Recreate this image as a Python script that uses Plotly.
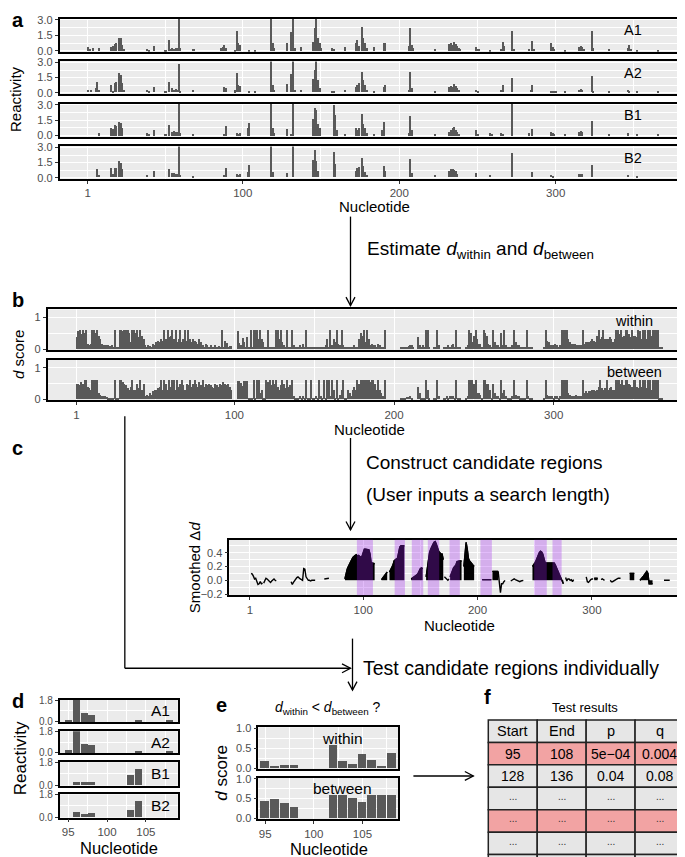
import math
import plotly.graph_objects as go

W, H = 685, 857
FONT = "Liberation Sans, Arial, Helvetica, sans-serif"
BAR = "#595959"
PANEL_BG = "#EBEBEB"
TICK_C = "#4D4D4D"
PURPLE = "rgba(160,32,240,0.30)"
PINK = "#F2A3A3"
GRAY = "#E6E6E6"

# ---------------- data ----------------
nucleotides = list(range(1, 369))
replicates = ["A1", "A2", "B1", "B2"]

react_A1 = {1: 0.43, 2: 0.2, 4: 0.34, 8: 0.34, 16: 0.43, 17: 0.5, 18: 0.65, 19: 0.74, 21: 1.27, 22: 1.27,
            23: 0.62, 24: 0.2, 39: 0.25, 40: 0.15, 43: 0.5, 50: 0.12, 51: 0.15, 53: 1.05, 54: 0.25, 55: 0.34,
            56: 0.25, 57: 0.3, 58: 0.3, 59: 3.2, 60: 0.3, 68: 0.25, 69: 0.2, 86: 0.3, 87: 0.45, 88: 0.55,
            89: 0.3, 95: 0.15, 96: 1.9, 97: 0.75, 98: 0.6, 104: 0.15, 108: 0.12, 118: 3.2, 119: 0.74,
            120: 0.34, 128: 0.8, 131: 1.8, 132: 3.2, 133: 0.34, 137: 0.43, 145: 0.93, 146: 2.2, 147: 3.2,
            148: 1.27, 149: 0.74, 150: 0.34, 157: 0.28, 158: 0.2, 165: 0.4, 172: 0.8, 173: 1.05, 174: 0.5,
            176: 2.3, 177: 1.27, 178: 0.74, 179: 0.34, 184: 0.43, 190: 0.74, 191: 0.74, 206: 0.5, 207: 2.23,
            208: 0.62, 209: 0.3, 223: 0.25, 232: 0.65, 233: 0.74, 234: 0.55, 235: 0.9, 236: 0.68, 237: 0.5,
            238: 0.34, 239: 0.25, 249: 0.4, 250: 0.2, 251: 0.2, 258: 0.12, 265: 0.2, 266: 0.93, 267: 0.5,
            272: 1.9, 273: 0.2, 283: 0.2, 285: 0.96, 286: 0.25, 297: 0.74, 298: 0.43, 299: 0.25, 306: 0.12,
            315: 0.43, 316: 0.5, 317: 0.43, 318: 0.25, 323: 1.9, 324: 0.34, 334: 0.2, 346: 0.34, 347: 0.62,
            348: 0.25, 352: 0.12, 365: 0.12}
react_A2 = {1: 0.25, 3: 0.25, 6: 0.4, 7: 1.0, 8: 0.25, 16: 0.73, 17: 0.1, 18: 0.9, 19: 1.05, 21: 1.9,
            22: 1.7, 23: 0.9, 24: 0.25, 39: 0.25, 40: 0.1, 43: 0.57, 50: 0.1, 51: 0.15, 53: 1.0, 55: 0.4,
            56: 0.25, 57: 0.3, 58: 0.25, 59: 2.85, 60: 0.15, 68: 0.25, 88: 0.57, 89: 0.4, 95: 0.18, 96: 1.9,
            97: 0.72, 98: 0.65, 104: 0.1, 108: 0.08, 118: 3.2, 119: 0.73, 120: 0.25, 128: 0.8, 131: 1.85,
            132: 3.2, 133: 0.2, 137: 0.25, 145: 1.36, 146: 2.2, 147: 3.2, 148: 1.2, 149: 0.4, 157: 0.15,
            158: 0.15, 165: 0.25, 172: 0.57, 173: 0.73, 174: 0.9, 176: 2.0, 177: 1.2, 178: 0.73, 179: 0.25,
            184: 0.15, 190: 0.57, 191: 0.73, 206: 0.25, 207: 2.0, 208: 0.4, 223: 0.15, 232: 0.57, 233: 0.63,
            234: 0.57, 235: 0.8, 236: 0.67, 237: 0.47, 238: 0.25, 249: 0.25, 250: 0.15, 265: 0.25, 266: 0.73,
            272: 1.42, 284: 0.25, 285: 0.73, 297: 0.15, 298: 0.12, 299: 0.15, 300: 0.1, 306: 0.1, 315: 0.25,
            316: 0.3, 317: 0.25, 323: 1.6, 324: 0.15, 334: 0.1, 346: 0.25, 347: 0.1, 352: 0.06, 365: 0.06}
react_B1 = {8: 0.32, 16: 0.8, 17: 0.66, 18: 1.05, 19: 1.0, 21: 1.36, 22: 1.3, 23: 0.8, 39: 0.32, 40: 0.16,
            43: 0.54, 50: 0.16, 51: 0.16, 53: 1.1, 55: 0.41, 56: 0.47, 57: 0.41, 58: 0.41, 59: 3.2, 60: 0.25,
            68: 0.22, 88: 0.16, 89: 0.92, 96: 0.25, 97: 0.22, 98: 0.25, 103: 0.8, 104: 1.25, 118: 3.2,
            119: 0.73, 120: 0.32, 128: 0.63, 131: 0.16, 132: 3.2, 145: 1.6, 146: 2.7, 147: 2.56, 148: 1.2,
            149: 0.73, 158: 3.0, 159: 2.0, 160: 0.6, 165: 0.16, 172: 0.8, 173: 0.57, 174: 0.73, 176: 2.15,
            177: 1.2, 178: 0.73, 179: 0.25, 184: 0.16, 189: 0.57, 190: 1.36, 206: 0.25, 207: 1.9, 208: 0.57,
            223: 0.16, 232: 0.41, 233: 0.57, 234: 0.73, 235: 0.89, 236: 0.57, 237: 0.41, 238: 0.16,
            249: 0.57, 250: 0.16, 258: 0.25, 259: 0.16, 265: 0.32, 266: 0.16, 272: 3.2, 283: 0.25, 285: 0.66,
            297: 0.35, 298: 0.3, 299: 0.2, 306: 0.16, 315: 0.41, 316: 0.5, 317: 0.41, 323: 1.42, 334: 0.16,
            346: 0.25, 352: 0.1, 365: 0.1}
react_B2 = {7: 0.8, 8: 0.2, 16: 0.95, 17: 0.3, 18: 0.95, 19: 0.95, 21: 1.6, 22: 1.4, 23: 0.8, 39: 0.25,
            43: 0.63, 53: 0.8, 55: 0.45, 56: 0.4, 57: 0.35, 58: 0.3, 59: 3.2, 60: 0.2, 68: 0.15, 88: 0.25,
            89: 0.92, 96: 0.35, 97: 0.2, 98: 0.3, 103: 0.55, 104: 1.25, 118: 3.2, 119: 0.5, 128: 0.4,
            132: 3.2, 145: 1.73, 146: 2.7, 147: 1.6, 148: 0.6, 158: 2.5, 159: 1.3, 172: 0.63, 173: 0.9,
            174: 1.0, 176: 1.95, 177: 1.1, 178: 0.5, 179: 0.2, 190: 1.14, 191: 0.6, 207: 1.8, 208: 0.47,
            223: 0.2, 232: 0.63, 233: 0.8, 234: 0.8, 235: 0.7, 236: 0.63, 237: 0.3, 249: 0.47, 258: 0.25,
            272: 2.43, 285: 0.57, 297: 0.2, 298: 0.15, 315: 0.3, 316: 0.35, 317: 0.3, 323: 1.26, 346: 0.2,
            352: 0.08}
reactivity = {"A1": react_A1, "A2": react_A2, "B1": react_B1, "B2": react_B2}

within_d = [
    0.35, 0.55, 0.6, 0.45, 0.6, 0.5, 0.6, 0.15, 0.12, 0.15,
    0.6, 0.6, 0.5, 0.6, 0.4, 0.3, 0.15, 0.1, 0.12, 0.1,
    0.1, 0.08, 0.1, 0.05, 0.6, 0.05, 0.05, 0.6, 0.6, 0.55,
    0.6, 0.6, 0.6, 0.5, 0.2, 0.6, 0.6, 0.5, 0.6, 0.35,
    0.6, 0.4, 0.3, 0.1, 0.05, 0.1, 0.08, 0.05, 0.15, 0.1,
    0.2, 0.25, 0.2, 0.3, 0.25, 0.6, 0.3, 0.6, 0.35, 0.4,
    0.6, 0.3, 0.6, 0.2, 0.3, 0.6, 0.2, 0.3, 0.6, 0.25,
    0.6, 0.3, 0.2, 0.3, 0.25, 0.2, 0.15, 0.3, 0.2, 0.1,
    0.05, 0.15, 0.1, 0.05, 0.1, 0.05, 0.05, 0.1, 0.05, 0.08,
    0.05, 0.6, 0.05, 0.25, 0.18, 0.06, 0.08, 0.07, 0.0, 0.0,
    0.0, 0.56, 0.17, 0.1, 0.34, 0.2, 0.03, 0.37, 0.05, 0.6,
    0.05, 0.6, 0.6, 0.6, 0.3, 0.6, 0.3, 0.2, 0.05, 0.05,
    0.6, 0.05, 0.05, 0.05, 0.05, 0.6, 0.6, 0.3, 0.6, 0.2,
    0.1, 0.05, 0.6, 0.05, 0.05, 0.6, 0.1, 0.05, 0.05, 0.05,
    0.1, 0.05, 0.15, 0.05, 0.6, 0.05, 0.05, 0.05, 0.03, 0.03,
    0.03, 0.05, 0.03, 0.05, 0.03, 0.05, 0.1, 0.3, 0.05, 0.6,
    0.1, 0.3, 0.2, 0.6, 0.15, 0.1, 0.6, 0.1, 0.05, 0.05,
    0.05, 0.03, 0.05, 0.05, 0.1, 0.05, 0.05, 0.3, 0.5, 0.4,
    0.6, 0.2, 0.6, 0.3, 0.1, 0.15, 0.1, 0.1, 0.05, 0.15,
    0.1, 0.05, 0.05, 0.6, 0.0, 0.0, 0.0, 0.0, 0.0, 0.0,
    0.0, 0.0, 0.0, 0.03, 0.05, 0.05, 0.05, 0.05, 0.08, 0.1,
    0.1, 0.05, 0.0, 0.0, 0.35, 0.1, 0.05, 0.1, 0.05, 0.6,
    0.6, 0.05, 0.0, 0.0, 0.05, 0.05, 0.6, 0.1, 0.0, 0.0,
    0.05, 0.05, 0.05, 0.1, 0.05, 0.1, 0.15, 0.05, 0.6, 0.05,
    0.05, 0.0, 0.0, 0.0, 0.05, 0.1, 0.6, 0.5, 0.2, 0.4,
    0.6, 0.3, 0.15, 0.15, 0.05, 0.6, 0.5, 0.4, 0.15, 0.1,
    0.05, 0.6, 0.2, 0.1, 0.1, 0.05, 0.5, 0.1, 0.6, 0.1,
    0.05, 0.05, 0.05, 0.1, 0.6, 0.2, 0.1, 0.1, 0.05, 0.05,
    0.05, 0.05, 0.6, 0.05, 0.05, 0.05, 0.0, 0.0, 0.0, 0.0,
    0.0, 0.0, 0.0, 0.05, 0.6, 0.25, 0.2, 0.1, 0.1, 0.1,
    0.15, 0.1, 0.05, 0.1, 0.6, 0.6, 0.6, 0.6, 0.3, 0.2,
    0.15, 0.15, 0.15, 0.1, 0.12, 0.1, 0.1, 0.6, 0.15, 0.2,
    0.2, 0.2, 0.25, 0.3, 0.25, 0.2, 0.4, 0.6, 0.3, 0.35,
    0.6, 0.3, 0.3, 0.3, 0.35, 0.3, 0.2, 0.3, 0.6, 0.6,
    0.45, 0.6, 0.35, 0.4, 0.6, 0.6, 0.45, 0.35, 0.6, 0.4,
    0.4, 0.35, 0.6, 0.55, 0.3, 0.6, 0.6, 0.3, 0.6, 0.6,
    0.4, 0.6, 0.6, 0.6, 0.6, 0.05, 0.05, 0.05,
]
between_d = [
    0.5, 0.5, 0.45, 0.55, 0.5, 0.6, 0.6, 0.4, 0.35, 0.3,
    0.6, 0.6, 0.6, 0.6, 0.2, 0.15, 0.1, 0.1, 0.1, 0.08,
    0.05, 0.05, 0.05, 0.05, 0.6, 0.05, 0.05, 0.6, 0.6, 0.55,
    0.5, 0.45, 0.35, 0.3, 0.4, 0.6, 0.3, 0.3, 0.5, 0.35,
    0.6, 0.3, 0.5, 0.1, 0.15, 0.1, 0.2, 0.15, 0.25, 0.3,
    0.3, 0.35, 0.4, 0.6, 0.3, 0.6, 0.5, 0.3, 0.6, 0.4,
    0.6, 0.6, 0.3, 0.6, 0.4, 0.5, 0.6, 0.45, 0.3, 0.5,
    0.45, 0.6, 0.4, 0.5, 0.6, 0.5, 0.4, 0.55, 0.45, 0.6,
    0.4, 0.5, 0.45, 0.5, 0.45, 0.4, 0.35, 0.5, 0.45, 0.4,
    0.5, 0.45, 0.55, 0.5, 0.45, 0.48, 0.4, 0.28, 0.0, 0.0,
    0.0, 0.58, 0.58, 0.51, 0.42, 0.58, 0.58, 0.58, 0.05, 0.05,
    0.05, 0.6, 0.05, 0.6, 0.6, 0.2, 0.3, 0.05, 0.05, 0.6,
    0.55, 0.6, 0.45, 0.6, 0.5, 0.6, 0.4, 0.3, 0.45, 0.6,
    0.5, 0.35, 0.6, 0.4, 0.45, 0.6, 0.1, 0.05, 0.05, 0.05,
    0.1, 0.05, 0.1, 0.05, 0.6, 0.05, 0.05, 0.6, 0.05, 0.05,
    0.1, 0.05, 0.6, 0.1, 0.05, 0.6, 0.05, 0.6, 0.6, 0.1,
    0.6, 0.3, 0.05, 0.6, 0.05, 0.15, 0.3, 0.6, 0.05, 0.05,
    0.3, 0.2, 0.1, 0.3, 0.4, 0.3, 0.6, 0.5, 0.6, 0.6,
    0.6, 0.6, 0.6, 0.6, 0.55, 0.6, 0.6, 0.5, 0.3, 0.6,
    0.3, 0.2, 0.1, 0.6, 0.0, 0.0, 0.0, 0.0, 0.0, 0.0,
    0.0, 0.0, 0.0, 0.03, 0.03, 0.05, 0.05, 0.08, 0.08, 0.1,
    0.05, 0.0, 0.0, 0.0, 0.4, 0.2, 0.05, 0.05, 0.05, 0.6,
    0.3, 0.05, 0.0, 0.0, 0.05, 0.05, 0.6, 0.1, 0.0, 0.0,
    0.05, 0.05, 0.1, 0.05, 0.1, 0.1, 0.1, 0.05, 0.6, 0.05,
    0.05, 0.0, 0.0, 0.0, 0.05, 0.1, 0.6, 0.6, 0.6, 0.5,
    0.6, 0.2, 0.2, 0.15, 0.05, 0.6, 0.6, 0.5, 0.5, 0.3,
    0.05, 0.5, 0.2, 0.1, 0.1, 0.05, 0.6, 0.2, 0.3, 0.1,
    0.05, 0.05, 0.05, 0.1, 0.6, 0.15, 0.1, 0.1, 0.05, 0.05,
    0.05, 0.05, 0.6, 0.1, 0.05, 0.05, 0.0, 0.0, 0.0, 0.0,
    0.0, 0.0, 0.0, 0.05, 0.6, 0.15, 0.1, 0.1, 0.1, 0.05,
    0.1, 0.1, 0.05, 0.1, 0.6, 0.6, 0.6, 0.6, 0.2, 0.15,
    0.1, 0.1, 0.1, 0.15, 0.1, 0.1, 0.1, 0.6, 0.2, 0.25,
    0.2, 0.25, 0.25, 0.3, 0.3, 0.25, 0.3, 0.4, 0.6, 0.35,
    0.3, 0.35, 0.6, 0.3, 0.35, 0.4, 0.3, 0.3, 0.6, 0.6,
    0.6, 0.5, 0.6, 0.45, 0.6, 0.6, 0.5, 0.45, 0.4, 0.6,
    0.6, 0.4, 0.35, 0.6, 0.4, 0.6, 0.6, 0.35, 0.6, 0.6,
    0.3, 0.6, 0.6, 0.6, 0.6, 0.05, 0.05, 0.05,
]

# smoothed delta-d: (first nucleotide, consecutive values, area filled to zero)
smooth_segments = [
    (2, [0.1, 0.09, 0.06, 0.02, 0.03, -0.03, -0.06, -0.05, -0.02, -0.05, -0.04], False),
    (13, [-0.04, 0.0, 0.03, 0.02, 0.0, -0.02, -0.03, -0.01, 0.01, 0.02, 0.0, -0.01], False),
    (37, [-0.02, -0.06, -0.03, 0.0, 0.02, 0.04, 0.05, 0.03, 0.02, 0.01, 0.0, 0.17, 0.16, 0.05, 0.03,
          0.0, 0.0, -0.01, 0.0, 0.0, -0.01, 0.0], False),
    (66, [0.02, 0.02, 0.03, 0.02, 0.03], False),
    (84, [0.02, 0.1, 0.16, 0.2, 0.24, 0.27, 0.3, 0.33, 0.35, 0.36, 0.37, 0.35, 0.36, 0.34, 0.33, 0.35,
          0.42, 0.45, 0.45, 0.45, 0.45, 0.44, 0.38, 0.25, 0.25, 0.25, 0.24], True),
    (116, [0.01, 0.03, 0.05, 0.08, 0.1, 0.12], True),
    (123, [0.12, 0.15, 0.18, 0.22, 0.28, 0.3, 0.31, 0.32, 0.4, 0.48, 0.5, 0.5, 0.5, 0.5], True),
    (142, [0.02, 0.03, 0.04, 0.05, 0.06, 0.08, 0.1, 0.15, 0.17, 0.18, 0.17], True),
    (155, [0.05, 0.2, 0.32, 0.4, 0.45, 0.5, 0.52, 0.55, 0.56, 0.52, 0.45, 0.42, 0.4, 0.38, 0.38, 0.3], True),
    (171, [0.05, 0.03, 0.01, 0.0, 0.02], False),
    (176, [0.05, 0.1, 0.15, 0.18, 0.2, 0.22, 0.27, 0.28, 0.28, 0.28, 0.28], True),
    (188, [0.2, 0.4, 0.55, 0.45, 0.32, 0.28, 0.25, 0.24, 0.22, 0.2], True),
    (204, [0.01, 0.01, 0.01, 0.01, 0.01, 0.01, 0.01, 0.01, 0.01], True),
    (213, [0.13, 0.13, 0.13, 0.13, 0.13, 0.13], True),
    (218, [0.13, 0.0, -0.18, -0.05, -0.05, -0.02, 0.0], False),
    (229, [-0.01, 0.0, 0.01, 0.02, 0.01, 0.0, -0.01, -0.02, -0.02, -0.01, 0.0, 0.0], False),
    (248, [0.2, 0.22, 0.25, 0.28, 0.32, 0.37, 0.4, 0.42, 0.41, 0.38, 0.3, 0.26, 0.25, 0.25, 0.25, 0.25,
           0.26, 0.26, 0.25, 0.25, 0.22, 0.18, 0.14, 0.1, 0.05, 0.02, -0.03, -0.05], True),
    (277, [0.04, -0.01, 0.02, 0.02, 0.0, 0.01, -0.02, 0.01], False),
    (295, [0.05, -0.02, -0.03, 0.0, 0.01, 0.02, 0.02], False),
    (302, [0.03, 0.03, 0.03, 0.03], True),
    (308, [0.01, 0.02, 0.01, 0.0], False),
    (316, [0.0, -0.02, -0.02, -0.01, 0.0, 0.02, 0.03, 0.03, 0.03, 0.03], False),
    (333, [0.1, 0.1, 0.1, 0.1, 0.1], True),
    (342, [0.0, 0.03, 0.04, 0.06, 0.08, 0.1, 0.13, 0.1, -0.05, -0.05, -0.05, -0.05], True),
    (363, [0.0, 0.0, 0.01, 0.01, 0.0, 0.0], False),
]
region_start = [95, 128, 143, 157, 176, 203, 250, 266]
region_end = [108, 136, 152, 166, 184, 212, 260, 273]

zoom_start, zoom_end = 95, 108

table_header = ["Start", "End", "p", "q"]
table_start = ["95", "128", "...", "...", "...", "..."]
table_end = ["108", "136", "...", "...", "...", "..."]
table_p = ["5e\u221204", "0.04", "...", "...", "...", "..."]
table_q = ["0.004", "0.08", "...", "...", "...", "..."]
table_significant = [True, False, False, True, False, False]

# ---------------- helpers ----------------
def px(x):
    return x / W

def py(y):
    return 1 - y / H

fig = go.Figure()
layout_axes = {}
annotations = []
shapes = []
axis_count = [0]


def add_panel(xpx, ypx, xrange, yrange, xmajor, xminor, ymajor, yminor, ytext,
              xlabels=None, tick_size=11):
    axis_count[0] += 1
    i = axis_count[0]
    xname = "xaxis" if i == 1 else f"xaxis{i}"
    yname = "yaxis" if i == 1 else f"yaxis{i}"
    xref = "x" if i == 1 else f"x{i}"
    yref = "y" if i == 1 else f"y{i}"
    show_x = xlabels is not None
    layout_axes[xname] = dict(
        domain=[px(xpx[0]), px(xpx[1])], range=xrange, anchor=yref,
        tickmode="array", tickvals=xmajor, ticktext=xlabels if show_x else None,
        showticklabels=show_x, ticks="outside" if show_x else "", ticklen=3,
        tickcolor="#333333", tickwidth=1,
        tickfont=dict(size=11.5, color=TICK_C, family=FONT),
        showgrid=True, gridcolor="white", gridwidth=1.1,
        minor=dict(tickvals=xminor, showgrid=True, gridcolor="white", gridwidth=0.5, ticks=""),
        showline=True, linecolor="black", linewidth=1.6, mirror=True,
        zeroline=False, fixedrange=True)
    layout_axes[yname] = dict(
        domain=[py(ypx[1]), py(ypx[0])], range=yrange, anchor=xref,
        tickmode="array", tickvals=ymajor, ticktext=ytext,
        ticks="outside", ticklen=3, tickcolor="#333333", tickwidth=1,
        tickfont=dict(size=tick_size, color=TICK_C, family=FONT),
        showgrid=True, gridcolor="white", gridwidth=1.1,
        minor=dict(tickvals=yminor, showgrid=True, gridcolor="white", gridwidth=0.5, ticks=""),
        showline=True, linecolor="black", linewidth=1.6, mirror=True,
        zeroline=False, fixedrange=True)
    return xref, yref


def text(x, y, s, size=14, xanchor="center", yanchor="middle", angle=0, color="black", bold=False):
    if bold:
        s = f"<b>{s}</b>"
    annotations.append(dict(x=px(x), y=py(y), xref="paper", yref="paper", text=s, showarrow=False,
                            xanchor=xanchor, yanchor=yanchor, textangle=angle,
                            font=dict(size=size, color=color, family=FONT)))


def line(x0, y0, x1, y1, width=1.3):
    shapes.append(dict(type="line", xref="paper", yref="paper", x0=px(x0), y0=py(y0),
                       x1=px(x1), y1=py(y1), line=dict(color="black", width=width)))


def arrow(x0, y0, x1, y1, head=8.5, half=4.5):
    line(x0, y0, x1, y1)
    dx, dy = x1 - x0, y1 - y0
    n = math.hypot(dx, dy)
    ux, uy = dx / n, dy / n
    bx, by = x1 - head * ux, y1 - head * uy
    p1 = (bx - half * uy, by + half * ux)
    p2 = (bx + half * uy, by - half * ux)
    path = (f"M {px(p1[0])},{py(p1[1])} L {px(x1)},{py(y1)} L {px(p2[0])},{py(p2[1])}")
    shapes.append(dict(type="path", xref="paper", yref="paper", path=path,
                       line=dict(color="black", width=1.3)))


BIG_MAJOR = [1, 100, 200, 300]
BIG_MINOR = [50.5, 150, 250, 350]
BIG_RANGE = [-17, 386]

# ---------------- panel a ----------------
a_rows = [(5.7, 39.3), (49.0, 81.7), (91.7, 125.0), (135.0, 167.7)]
for k, rep in enumerate(replicates):
    last = k == len(replicates) - 1
    xr, yr = add_panel((51.7, 683.3), a_rows[k], BIG_RANGE, [-0.1, 3.1], BIG_MAJOR, BIG_MINOR,
                       [0, 1.5, 3.0], [0.75, 2.25], ["0.0", "1.5", "3.0"],
                       xlabels=["1", "100", "200", "300"] if last else None)
    vals = [reactivity[rep].get(n, 0.0) for n in nucleotides]
    fig.add_trace(go.Bar(x=nucleotides, y=vals, width=0.9, marker=dict(color=BAR, line=dict(width=0)),
                         xaxis=xr, yaxis=yr, hoverinfo="skip"))
    text(626, (a_rows[k][0] + a_rows[k][1]) / 2 - 5, rep, size=14.5)

text(2, 7, "a", size=20, xanchor="left", bold=True)
text(8, 87, "Reactivity", size=15, angle=-90)
text(367.5, 196, "Nucleotide", size=15)

# ---------------- panel b ----------------
b_rows = [(300.0, 341.0), (351.0, 391.7)]
for k, (name, vals) in enumerate([("within", within_d), ("between", between_d)]):
    last = k == 1
    xr, yr = add_panel((39.7, 684.0), b_rows[k], BIG_RANGE, [-0.03, 1.25], BIG_MAJOR, BIG_MINOR,
                       [0, 1], [0.5], ["0", "1"],
                       xlabels=["1", "100", "200", "300"] if last else None)
    fig.add_trace(go.Bar(x=nucleotides, y=vals, width=0.9, marker=dict(color=BAR, line=dict(width=0)),
                         xaxis=xr, yaxis=yr, hoverinfo="skip"))
    text(627, b_rows[k][0] + 12, name, size=14.5)

text(2, 290, "b", size=20, xanchor="left", bold=True)
text(11, 345, "<i>d</i> score", size=15, angle=-90)
text(362, 421, "Nucleotide", size=15)

# ---------------- panel c ----------------
xr, yr = add_panel((221.7, 683.3), (533.0, 589.0), BIG_RANGE, [-0.214, 0.586], BIG_MAJOR, BIG_MINOR,
                   [-0.2, 0.0, 0.2, 0.4], [-0.1, 0.1, 0.3, 0.5],
                   ["\u22120.2", "0.0", "0.2", "0.4"], xlabels=["1", "100", "200", "300"])
line_x, line_y = [], []
for start, vals, filled in smooth_segments:
    xs = list(range(start, start + len(vals)))
    if filled:
        fig.add_trace(go.Scatter(x=xs, y=vals, mode="lines", fill="tozeroy", fillcolor="black",
                                 line=dict(color="black", width=1.2), xaxis=xr, yaxis=yr,
                                 hoverinfo="skip"))
    line_x += xs + [None]
    line_y += vals + [None]
fig.add_trace(go.Scatter(x=line_x, y=line_y, mode="lines", connectgaps=False,
                         line=dict(color="black", width=1.4), xaxis=xr, yaxis=yr, hoverinfo="skip"))
for s, e in zip(region_start, region_end):
    shapes.append(dict(type="rect", xref=xr, yref=f"{yr} domain", x0=s - 0.5, x1=e + 0.5, y0=0, y1=1,
                       fillcolor=PURPLE, line=dict(width=0), layer="above"))

text(2, 440, "c", size=20, xanchor="left", bold=True)
text(187, 561, "Smoothed \u0394<i>d</i>", size=15, angle=-90)
text(452.5, 620, "Nucleotide", size=15)

# ---------------- panel d ----------------
zoom_nt = list(range(zoom_start, zoom_end + 1))
d_rows = [(695.0, 717.3), (726.7, 749.0), (758.0, 781.7), (790.7, 814.0)]
for k, rep in enumerate(replicates):
    last = k == len(replicates) - 1
    xr, yr = add_panel((51.7, 170.0), d_rows[k], [93.9, 109.1], [-0.04, 1.84], [95, 100, 105],
                       [97.5, 102.5, 107.5], [0, 1.8], [0.9], ["0.0", "1.8"],
                       xlabels=["95", "100", "105"] if last else None, tick_size=10)
    vals = [reactivity[rep].get(n, 0.0) for n in zoom_nt]
    fig.add_trace(go.Bar(x=zoom_nt, y=vals, width=0.9, marker=dict(color=BAR, line=dict(width=0)),
                         xaxis=xr, yaxis=yr, hoverinfo="skip"))
    text(153, (d_rows[k][0] + d_rows[k][1]) / 2, rep, size=15.5)

text(2, 696, "d", size=20, xanchor="left", bold=True)
text(12, 754, "Reactivity", size=17, angle=-90)
text(111, 845, "Nucleotide", size=16.5)

# ---------------- panel e ----------------
e_rows = [(722.7, 765.0), (774.0, 815.7)]
for k, (name, vals) in enumerate([("within", within_d), ("between", between_d)]):
    last = k == 1
    xr, yr = add_panel((250.7, 391.0), e_rows[k], [94.3, 108.7], [-0.02, 1.02], [95, 100, 105],
                       [97.5, 102.5, 107.5], [0, 0.5, 1.0], [0.25, 0.75], ["0.0", "0.5", "1.0"],
                       xlabels=["95", "100", "105"] if last else None)
    sub = [vals[n - 1] for n in zoom_nt]
    fig.add_trace(go.Bar(x=zoom_nt, y=sub, width=0.9, marker=dict(color=BAR, line=dict(width=0)),
                         xaxis=xr, yaxis=yr, hoverinfo="skip"))
    text(335, e_rows[k][0] + 11, name, size=15.5)

text(206, 700, "e", size=20, xanchor="left", bold=True)
text(213, 769, "<i>d</i> score", size=17, angle=-90)
text(321, 846, "Nucleotide", size=16.5)
text(320, 703, "<i>d</i><sub>within</sub> &lt; <i>d</i><sub>between</sub> ?", size=14)

# ---------------- panel f (table) ----------------
text(475, 692, "f", size=20, xanchor="left", bold=True)
text(578, 703, "Test results", size=13)
col_edges = [481, 530, 579, 628, 677]
row_h = 22.7
top = 715.3
columns = [table_start, table_end, table_p, table_q]
for c in range(4):
    x0, x1 = col_edges[c], col_edges[c + 1]
    shapes.append(dict(type="rect", xref="paper", yref="paper", x0=px(x0), x1=px(x1),
                       y0=py(top + row_h), y1=py(top), fillcolor=GRAY,
                       line=dict(color="#222222", width=1.5)))
    text((x0 + x1) / 2, top + row_h / 2, table_header[c], size=14.5)
    for r in range(len(table_start)):
        y0 = top + row_h * (r + 1)
        fill = PINK if table_significant[r] else GRAY
        shapes.append(dict(type="rect", xref="paper", yref="paper", x0=px(x0), x1=px(x1),
                           y0=py(y0 + row_h), y1=py(y0), fillcolor=fill,
                           line=dict(color="#222222", width=1.5)))
        if y0 + row_h / 2 + 6 > H:
            continue
        val = columns[c][r]
        if val == "...":
            text((x0 + x1) / 2, y0 + row_h / 2 - 2, val, size=10, color="#333333")
        else:
            text((x0 + x1) / 2, y0 + row_h / 2, val, size=14)

# ---------------- arrows & flow text ----------------
arrow(343, 206, 343, 296)
text(358, 240, "Estimate <i>d</i><sub>within</sub> and <i>d</i><sub>between</sub>", size=19, xanchor="left")
arrow(343, 430, 343, 523)
text(357, 455, "Construct candidate regions", size=19, xanchor="left")
text(357, 487, "(User inputs a search length)", size=19, xanchor="left")
line(117, 408, 117, 663)
arrow(117, 663, 343, 663)
arrow(345, 633, 345, 685)
text(354, 663, "Test candidate regions individually", size=19.5, xanchor="left")
arrow(406, 772, 466, 772)

fig.update_layout(width=W, height=H, margin=dict(l=0, r=0, t=0, b=0), paper_bgcolor="white",
                  plot_bgcolor=PANEL_BG, showlegend=False, bargap=0, font=dict(family=FONT),
                  annotations=annotations, shapes=shapes, **layout_axes)
fig.write_html("out.html")
